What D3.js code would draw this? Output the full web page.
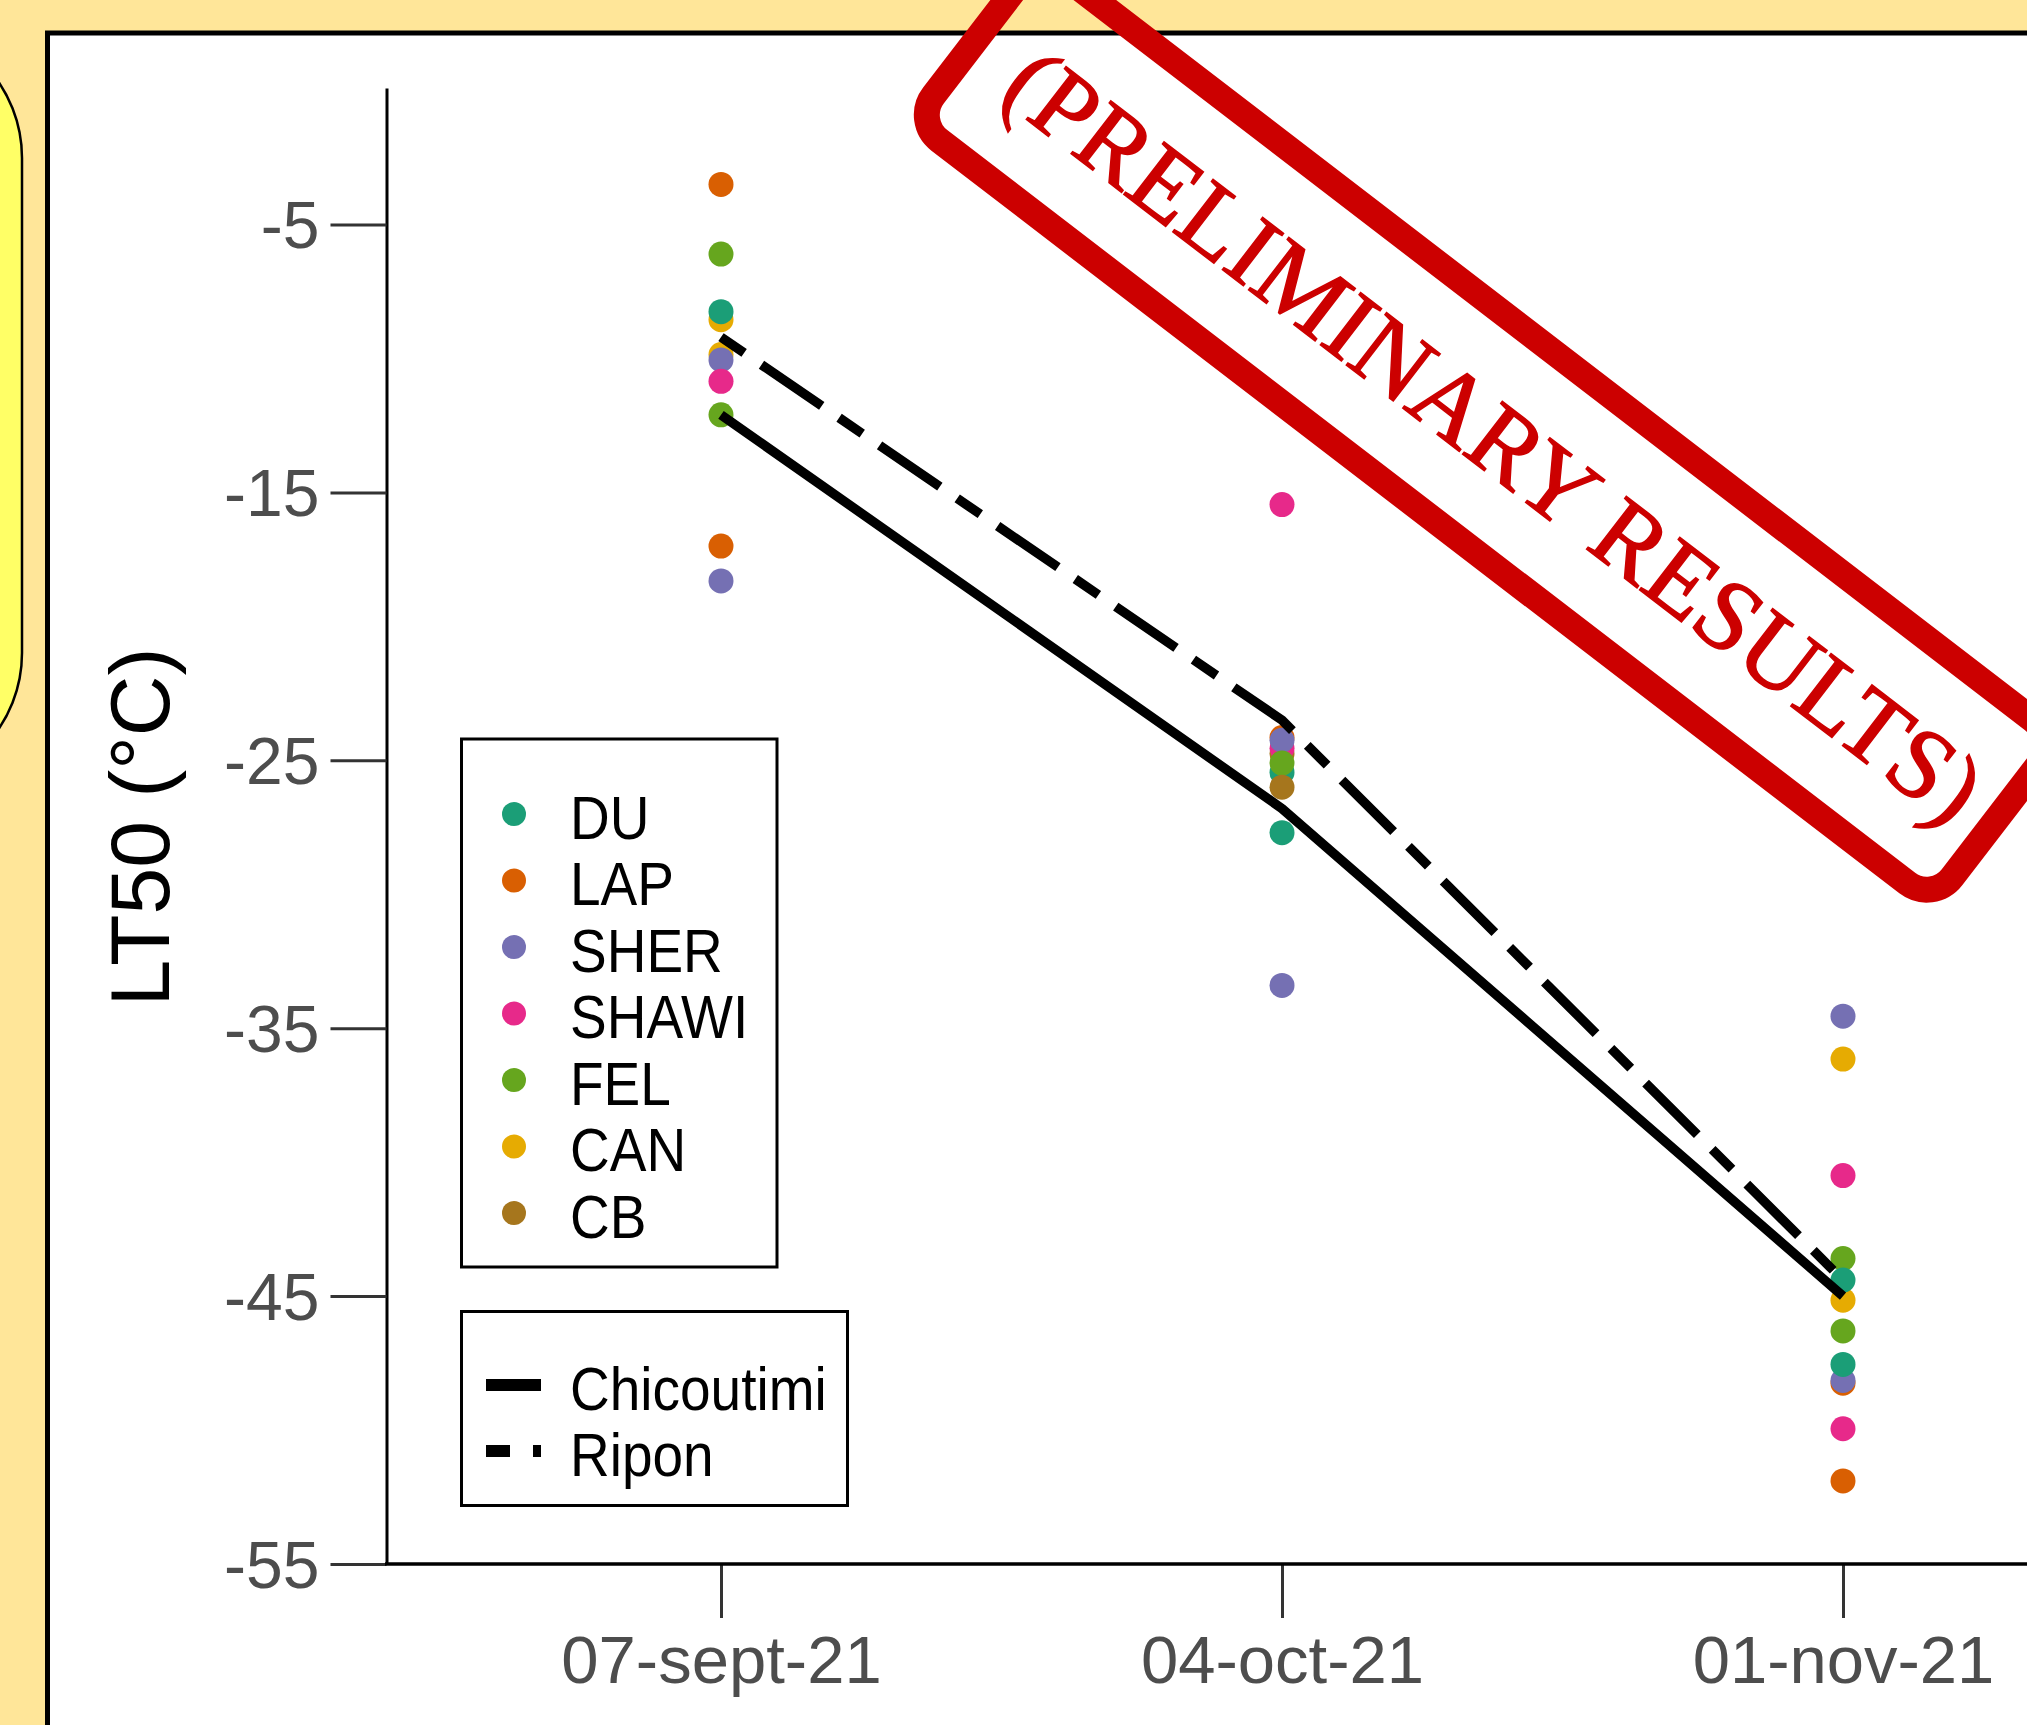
<!DOCTYPE html>
<html>
<head>
<meta charset="utf-8">
<script src="https://cdn.jsdelivr.net/npm/d3@7"></script>
<style>
  html, body { margin: 0; padding: 0; background: #FFE699; }
  svg { display: block; }
</style>
</head>
<body>
<div id="chart"></div>
<script>
// sampling dates (equally spaced on the axis)
const dates = ["07-sept-21", "04-oct-21", "01-nov-21"];

// sites and their colours (Dark2)
const sites = ["DU", "LAP", "SHER", "SHAWI", "FEL", "CAN", "CB"];
const siteColors = ["#1B9E77", "#D95F02", "#7570B3", "#E7298A", "#66A61E", "#E6AB02", "#A6761D"];

// LT50 per site, one list per date, in drawing order
const sepSites = ["LAP", "FEL", "CAN", "DU", "CAN", "SHER", "SHAWI", "FEL", "LAP", "SHER"];
const sepValues = [-3.5, -6.1, -8.55, -8.25, -9.85, -10.05, -10.85, -12.1, -17.0, -18.3];

const octSites = ["DU", "CB", "SHAWI", "LAP", "SHER", "FEL", "CB", "DU", "SHAWI", "SHER"];
const octValues = [-25.45, -24.75, -24.55, -24.15, -24.25, -25.1, -26.0, -27.7, -15.45, -33.4];

const novSites = ["LAP", "SHAWI", "LAP", "SHER", "DU", "FEL", "FEL", "CAN", "DU", "SHAWI", "CAN", "SHER"];
const novValues = [-51.9, -49.95, -48.25, -48.15, -47.55, -46.3, -43.6, -45.15, -44.4, -40.5, -36.15, -34.55];

// mean LT50 per location
const locations = ["Chicoutimi", "Ripon"];
const chicoutimiMeans = [-12.1, -26.8, -45.0];
const riponMeans = [-9.2, -23.5, -44.4];

const yTicks = [-5, -15, -25, -35, -45, -55];

const width = 2027, height = 1725;
const sansFont = "'Liberation Sans', Arial, sans-serif";

const svg = d3.select("#chart").append("svg")
  .attr("width", width)
  .attr("height", height);

// page background and side panel
svg.append("rect").attr("width", width).attr("height", height).attr("fill", "#FFE699");
svg.append("rect")
  .attr("x", -400).attr("y", 23)
  .attr("width", 422).attr("height", 765)
  .attr("rx", 135)
  .attr("fill", "#FFFF66")
  .attr("stroke", "#000").attr("stroke-width", 2.5);

// white figure frame (runs off the page right and bottom)
svg.append("rect")
  .attr("x", 47.5).attr("y", 33)
  .attr("width", 2100).attr("height", 1800)
  .attr("fill", "#fff")
  .attr("stroke", "#000").attr("stroke-width", 5);

const x = d3.scalePoint().domain(dates).range([721, 1843]);
const y = d3.scaleLinear().domain([-55, 0.1]).range([1564, 88]);
const color = d3.scaleOrdinal().domain(sites).range(siteColors);
const axisX = 386.5;

// y axis
const yAxis = svg.append("g")
  .attr("transform", `translate(${axisX},0)`)
  .call(d3.axisLeft(y).tickValues(yTicks).tickFormat(d => String(d))
    .tickSize(56).tickSizeOuter(0).tickPadding(11));
yAxis.select(".domain").attr("stroke", "#000").attr("stroke-width", 3);
yAxis.selectAll(".tick line").attr("stroke", "#333").attr("stroke-width", 3);
yAxis.selectAll(".tick text")
  .attr("font-family", sansFont)
  .attr("font-size", 66)
  .attr("fill", "#4D4D4D")
  .attr("dy", "0.35em");

// x axis
const xAxis = svg.append("g")
  .attr("transform", `translate(0,${y(-55)})`)
  .call(d3.axisBottom(x).tickSize(54).tickSizeOuter(0));
xAxis.select(".domain").remove();
xAxis.selectAll(".tick line").attr("stroke", "#333").attr("stroke-width", 3);
xAxis.selectAll(".tick text")
  .attr("font-family", sansFont)
  .attr("font-size", 67)
  .attr("fill", "#4D4D4D")
  .attr("y", 119)
  .attr("dy", 0);
svg.append("line")
  .attr("x1", axisX - 1.5).attr("x2", width)
  .attr("y1", y(-55)).attr("y2", y(-55))
  .attr("stroke", "#000").attr("stroke-width", 3.5);

// y axis title
svg.append("text")
  .attr("transform", "translate(169,827) rotate(-90)")
  .attr("text-anchor", "middle")
  .attr("font-family", sansFont)
  .attr("font-size", 84)
  .attr("fill", "#000")
  .text("LT50 (°C)");

// points
const points = [];
[[sepSites, sepValues], [octSites, octValues], [novSites, novValues]].forEach((d, i) => {
  d[0].forEach((s, j) => points.push({ date: dates[i], site: s, value: d[1][j] }));
});

svg.append("g")
  .selectAll("circle")
  .data(points)
  .enter()
  .append("circle")
  .attr("cx", d => x(d.date))
  .attr("cy", d => y(d.value))
  .attr("r", 12.5)
  .attr("fill", d => color(d.site));

// location means
const line = d3.line()
  .x((d, i) => x(dates[i]))
  .y(d => y(d));

const lineDash = { Chicoutimi: null, Ripon: "28,21,73,21" };
const means = { Chicoutimi: chicoutimiMeans, Ripon: riponMeans };

locations.forEach(loc => {
  svg.append("path")
    .attr("d", line(means[loc]))
    .attr("fill", "none")
    .attr("stroke", "#000")
    .attr("stroke-width", 9.5)
    .attr("stroke-linejoin", "round")
    .attr("stroke-dasharray", lineDash[loc]);
});

// site legend
const leg1 = svg.append("g");
leg1.append("rect")
  .attr("x", 461.5).attr("y", 739)
  .attr("width", 315.5).attr("height", 528)
  .attr("fill", "#fff")
  .attr("stroke", "#000").attr("stroke-width", 3);

sites.forEach((s, i) => {
  const cy = 814 + i * 66.5;
  leg1.append("circle")
    .attr("cx", 514).attr("cy", cy)
    .attr("r", 12)
    .attr("fill", color(s));
  leg1.append("text")
    .attr("transform", `translate(570,${cy + 24.5}) scale(1,1.1)`)
    .attr("font-family", sansFont)
    .attr("font-size", 55)
    .attr("fill", "#000")
    .text(s);
});

// location legend
const leg2 = svg.append("g");
leg2.append("rect")
  .attr("x", 461.5).attr("y", 1311.5)
  .attr("width", 386).attr("height", 194)
  .attr("fill", "#fff")
  .attr("stroke", "#000").attr("stroke-width", 3);

const legendDash = { Chicoutimi: null, Ripon: "24,23,8,40" };
locations.forEach((loc, i) => {
  const cy = 1385 + i * 66;
  leg2.append("line")
    .attr("x1", 486).attr("x2", 541)
    .attr("y1", cy).attr("y2", cy)
    .attr("stroke", "#000")
    .attr("stroke-width", 12)
    .attr("stroke-dasharray", legendDash[loc]);
  leg2.append("text")
    .attr("transform", `translate(570,${cy + 25}) scale(1,1.1)`)
    .attr("font-family", sansFont)
    .attr("font-size", 55)
    .attr("fill", "#000")
    .text(loc);
});

// stamp
const stamp = svg.append("g")
  .attr("transform", "translate(1486,430) rotate(37.5)");
stamp.append("rect")
  .attr("x", -642).attr("y", -103)
  .attr("width", 1284).attr("height", 206)
  .attr("rx", 32)
  .attr("fill", "none")
  .attr("stroke", "#CC0000")
  .attr("stroke-width", 26);
stamp.append("text")
  .attr("x", 10)
  .attr("text-anchor", "middle")
  .attr("dy", "0.33em")
  .attr("font-family", "'Liberation Serif', 'Times New Roman', serif")
  .attr("font-size", 101)
  .attr("stroke", "#CC0000")
  .attr("stroke-width", 1.5)
  .attr("fill", "#CC0000")
  .text("(PRELIMINARY RESULTS)");
</script>
</body>
</html>
